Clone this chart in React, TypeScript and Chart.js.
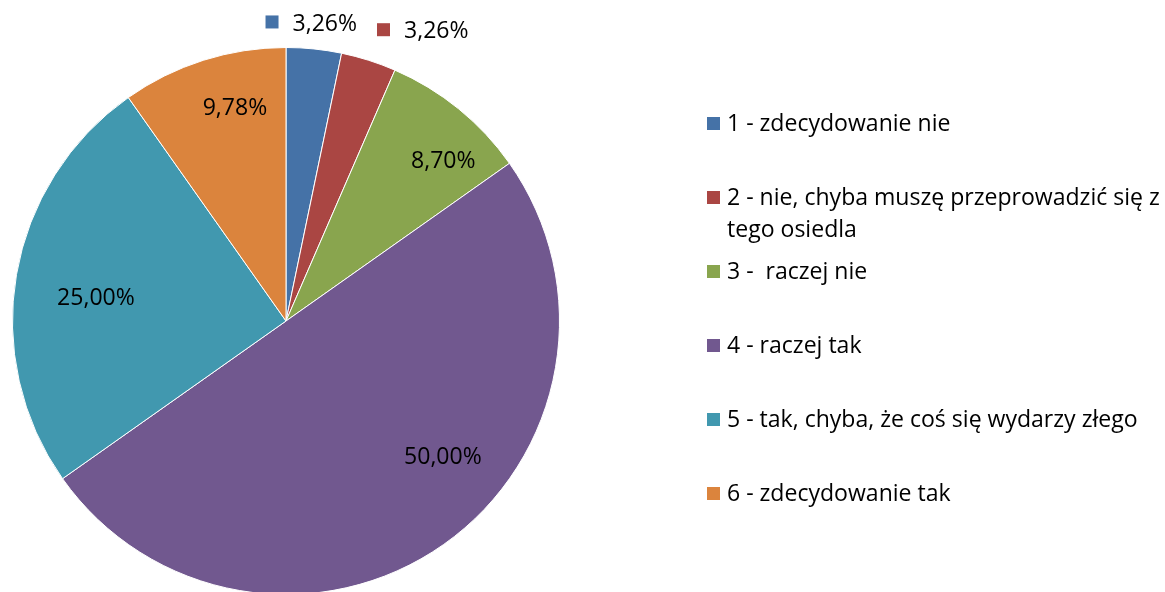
import { useEffect, useRef } from "react";
import { Chart, registerables } from "chart.js";

Chart.register(...registerables);

const categories = [
  "1 - zdecydowanie nie",
  "2 - nie, chyba muszę przeprowadzić się z tego osiedla",
  "3 -  raczej nie",
  "4 - raczej tak",
  "5 - tak, chyba, że coś się wydarzy złego",
  "6 - zdecydowanie tak",
];
const values = [3.26, 3.26, 8.7, 50.0, 25.0, 9.78];
const valueLabels = ["3,26%", "3,26%", "8,70%", "50,00%", "25,00%", "9,78%"];
const colors = ["#4572A7", "#AA4643", "#89A54E", "#71588F", "#4198AF", "#DB843D"];

// label placement relative to each arc: radial fraction, angle tweak (deg), show legend key
const labelPlacement = [
  { f: 1.09, da: -1.0, key: true },
  { f: 1.17, da: 7.7, key: true },
  { f: 0.82, da: 5.4, key: false },
  { f: 0.76, da: -13.8, key: false },
  { f: 0.7, da: -2.9, key: false },
  { f: 0.8, da: 4.1, key: false },
];

const FONT_FAMILY = '"Open Sans", "Noto Sans", sans-serif';

function fontSizeFor(ctx: CanvasRenderingContext2D): number {
  ctx.save();
  ctx.font = `100px ${FONT_FAMILY}`;
  const w = ctx.measureText("2 - nie, chyba muszę przeprowadzić się z").width;
  ctx.restore();
  return (100 * 433) / w;
}

function wrap(ctx: CanvasRenderingContext2D, text: string, maxW: number): string[] {
  const words = text.split(" ");
  const lines: string[] = [];
  let cur = "";
  for (const w of words) {
    const test = cur === "" ? w : cur + " " + w;
    if (ctx.measureText(test).width > maxW && cur !== "") {
      lines.push(cur);
      cur = w;
    } else {
      cur = test;
    }
  }
  if (cur) lines.push(cur);
  return lines;
}

const overlayPlugin = {
  id: "overlay",
  afterDraw(chart: any) {
    const ctx: CanvasRenderingContext2D = chart.ctx;
    const meta = chart.getDatasetMeta(0);
    const fs = fontSizeFor(ctx);
    ctx.save();
    ctx.font = `${fs}px ${FONT_FAMILY}`;
    ctx.fillStyle = "#000";
    ctx.textBaseline = "middle";

    // data labels
    meta.data.forEach((arc: any, i: number) => {
      const { x, y, startAngle, endAngle, outerRadius } = arc.getProps(
        ["x", "y", "startAngle", "endAngle", "outerRadius"],
        true
      );
      const p = labelPlacement[i];
      const mid = (startAngle + endAngle) / 2 + (p.da * Math.PI) / 180;
      const r = outerRadius * p.f;
      const lx = x + r * Math.cos(mid);
      const ly = y + r * Math.sin(mid);
      const text = valueLabels[i];
      const tw = ctx.measureText(text).width;
      if (p.key) {
        const keySize = 13;
        const gap = 14;
        const gw = keySize + gap + tw;
        const left = lx - gw / 2;
        ctx.fillStyle = colors[i];
        ctx.fillRect(left, ly - keySize / 2 - 2, keySize, keySize);
        ctx.fillStyle = "#000";
        ctx.textAlign = "left";
        ctx.fillText(text, left + keySize + gap, ly);
      } else {
        ctx.textAlign = "center";
        ctx.fillText(text, lx, ly);
      }
    });

    // legend
    const keyX = 707;
    const textX = 727;
    const startY = 124;
    const step = 74;
    const lineH = 32;
    const maxW = 440;
    ctx.textAlign = "left";
    chart.data.labels.forEach((lab: string, i: number) => {
      const cy = startY + i * step;
      ctx.fillStyle = colors[i];
      ctx.fillRect(keyX, cy - 7, 13, 13);
      ctx.fillStyle = "#000";
      const lines = wrap(ctx, lab, maxW);
      lines.forEach((ln, j) => ctx.fillText(ln, textX, cy + j * lineH));
    });
    ctx.restore();
  },
};

export default function App() {
  const ref = useRef<HTMLCanvasElement | null>(null);
  useEffect(() => {
    if (!ref.current) return;
    const chart = new Chart(ref.current, {
      type: "pie",
      data: {
        labels: categories,
        datasets: [
          {
            data: values,
            backgroundColor: colors,
            borderColor: "#ffffff",
            borderWidth: 1,
          },
        ],
      },
      options: {
        animation: false,
        responsive: true,
        maintainAspectRatio: false,
        layout: { padding: { left: 12, top: 47, right: 605, bottom: 5 } },
        plugins: {
          legend: { display: false },
          tooltip: { enabled: false },
        },
      },
      plugins: [overlayPlugin],
    });
    return () => chart.destroy();
  }, []);
  return (
    <div
      style={{
        position: "fixed",
        left: 0,
        top: 0,
        width: 1165,
        height: 600,
        background: "#fff",
      }}
    >
      <canvas ref={ref} />
    </div>
  );
}
